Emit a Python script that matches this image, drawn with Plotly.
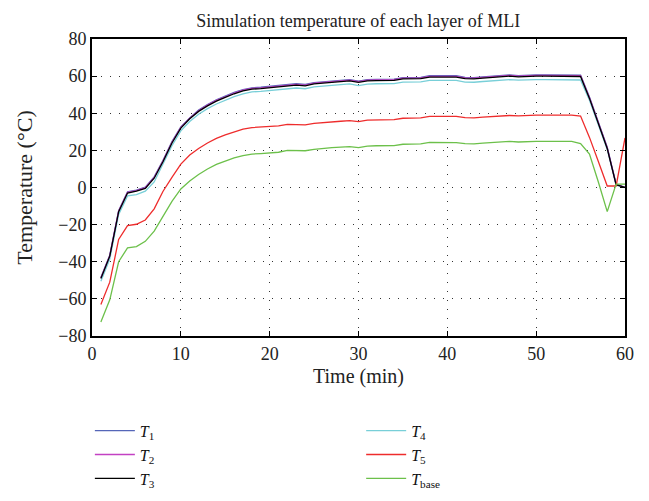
import plotly.graph_objects as go

time_min = list(range(1, 61))

T1 = [-48.5, -36.5, -12.5, -2.3, -1.4, 0.2, 5.7, 14.7, 24.7, 32.7,
      37.5, 41.7, 44.7, 47.2, 49.2, 51.2, 52.7, 53.7, 54.0, 54.5,
      54.9, 55.7, 55.9, 55.5, 56.5, 56.9, 57.4, 57.7, 58.1, 57.3,
      58.1, 58.3, 58.3, 58.4, 59.2, 59.2, 59.3, 60.2, 60.3, 60.3,
      60.2, 59.3, 59.2, 59.6, 60.0, 60.2, 60.7, 60.3, 60.7, 60.7,
      60.7, 60.7, 60.7, 60.7, 60.5, 48.7, 35.7, 21.7, 1.8, 0.0]

T2 = [-48.7, -36.7, -12.7, -2.6, -1.7, -0.1, 5.4, 14.4, 24.4, 32.4,
      37.3, 41.4, 44.4, 46.9, 48.9, 50.9, 52.4, 53.4, 53.7, 54.2,
      54.6, 55.4, 55.6, 55.2, 56.2, 56.6, 57.1, 57.4, 57.8, 57.0,
      57.8, 58.0, 58.0, 58.1, 58.9, 58.9, 59.0, 59.9, 60.0, 60.0,
      59.9, 59.0, 58.9, 59.3, 59.7, 59.9, 60.4, 60.0, 60.4, 60.4,
      60.4, 60.4, 60.4, 60.4, 60.2, 48.4, 35.4, 21.4, 1.6, 0.0]

T3 = [-49.0, -37.0, -13.0, -3.0, -2.0, -0.5, 5.0, 14.0, 24.0, 32.0,
      37.0, 41.0, 44.0, 46.5, 48.5, 50.5, 52.0, 53.0, 53.3, 53.8,
      54.2, 55.0, 55.2, 54.8, 55.8, 56.2, 56.7, 57.0, 57.4, 56.6,
      57.4, 57.6, 57.6, 57.7, 58.5, 58.5, 58.6, 59.5, 59.6, 59.6,
      59.5, 58.6, 58.5, 58.9, 59.3, 59.5, 60.0, 59.6, 60.0, 60.0,
      60.0, 60.0, 60.0, 60.0, 59.8, 48.0, 35.0, 21.0, 1.5, 0.0]

T4 = [-50.5, -38.5, -14.5, -4.5, -3.8, -2.0, 3.0, 12.5, 22.5, 30.5,
      35.5, 39.5, 42.5, 45.0, 47.0, 49.0, 50.5, 51.5, 51.8, 52.2,
      52.6, 53.4, 53.6, 53.2, 54.2, 54.6, 55.1, 55.4, 55.8, 54.9,
      55.7, 55.9, 55.9, 56.0, 56.8, 56.8, 56.9, 57.7, 57.8, 57.8,
      57.7, 56.8, 56.7, 57.1, 57.5, 57.7, 58.1, 57.8, 58.1, 58.1,
      58.1, 58.1, 58.1, 58.1, 57.9, 47.0, 34.0, 20.5, 1.2, 0.0]

T5 = [-63.0, -51.0, -28.0, -20.5, -19.8, -17.5, -11.5, -2.0, 5.5, 12.6,
      17.5, 21.0, 24.0, 26.5, 28.3, 30.0, 31.5, 32.3, 32.5, 32.7,
      33.2, 34.0, 34.0, 33.7, 34.5, 35.0, 35.4, 35.7, 36.0, 35.5,
      36.3, 36.5, 36.5, 36.6, 37.3, 37.4, 37.5, 38.3, 38.4, 38.4,
      38.3, 37.6, 37.5, 37.9, 38.2, 38.4, 38.8, 38.6, 38.9, 39.0,
      39.0, 39.0, 39.0, 39.0, 38.5, 27.0, 14.0, 0.8, 0.8, 26.7]

T_base = [-72.5, -60.5, -40.0, -32.5, -31.8, -29.0, -23.5, -15.5, -7.5, -0.8,
          3.5, 7.0, 10.0, 12.5, 14.3, 16.0, 17.2, 18.0, 18.3, 18.5,
          19.0, 20.0, 20.0, 19.8, 20.5, 21.2, 21.5, 21.8, 22.0, 21.5,
          22.3, 22.5, 22.5, 22.6, 23.3, 23.5, 23.5, 24.3, 24.4, 24.4,
          24.2, 23.6, 23.5, 23.9, 24.2, 24.4, 24.8, 24.5, 24.8, 24.8,
          24.8, 24.8, 24.8, 24.8, 23.6, 18.0, 3.0, -13.0, 1.8, 1.8]

series = [
    ("<i>T</i><sub>1</sub>", T1, "#5566b8", "legend"),
    ("<i>T</i><sub>2</sub>", T2, "#c341c3", "legend"),
    ("<i>T</i><sub>3</sub>", T3, "#000000", "legend"),
    ("<i>T</i><sub>4</sub>", T4, "#78cfd8", "legend2"),
    ("<i>T</i><sub>5</sub>", T5, "#ee2c2c", "legend2"),
    ("<i>T</i><sub>base</sub>", T_base, "#6cc04a", "legend2"),
]

FONT = "Liberation Serif"

fig = go.Figure()
order = [3, 0, 1, 2, 4, 5]
for i in order:
    name, vals, color, leg = series[i]
    fig.add_trace(go.Scatter(
        x=time_min, y=vals, mode="lines", name=name,
        line=dict(color=color, width=1.3),
        legend=leg, legendrank=i + 1,
    ))

axis_common = dict(
    showline=True, linecolor="black", linewidth=2, mirror="ticks",
    ticks="inside", ticklen=5, tickwidth=1, tickcolor="black",
    showgrid=True, gridcolor="#333333", gridwidth=1, griddash="1px,8px",
    zeroline=False,
    tickfont=dict(family=FONT, size=18, color="#222222"),
)

fig.update_xaxes(range=[0, 60], dtick=10, tick0=0,
                 title=dict(text="Time (min)", standoff=6,
                            font=dict(family=FONT, size=20, color="#222222")),
                 **axis_common)
fig.update_yaxes(range=[-80, 80], dtick=20, tick0=-80,
                 title=dict(text="Temperature (°C)", standoff=20,
                            font=dict(family=FONT, size=22, color="#222222")),
                 **axis_common)

leg_common = dict(
    xanchor="left", yanchor="top",
    font=dict(family=FONT, size=16, color="#111111"),
    bgcolor="rgba(0,0,0,0)", tracegroupgap=0, itemwidth=40,
)

fig.update_layout(
    width=649, height=501,
    margin=dict(l=92, r=24, t=39, b=165, autoexpand=False),
    paper_bgcolor="white", plot_bgcolor="white",
    title=dict(text="Simulation temperature of each layer of MLI",
               x=0.552, xanchor="center", y=0.972, yanchor="top",
               font=dict(family=FONT, size=18, color="#222222")),
    legend=dict(x=-0.004, y=-0.262, **leg_common),
    legend2=dict(x=0.505, y=-0.262, **leg_common),
    showlegend=True,
)

fig.write_html("out.html")
